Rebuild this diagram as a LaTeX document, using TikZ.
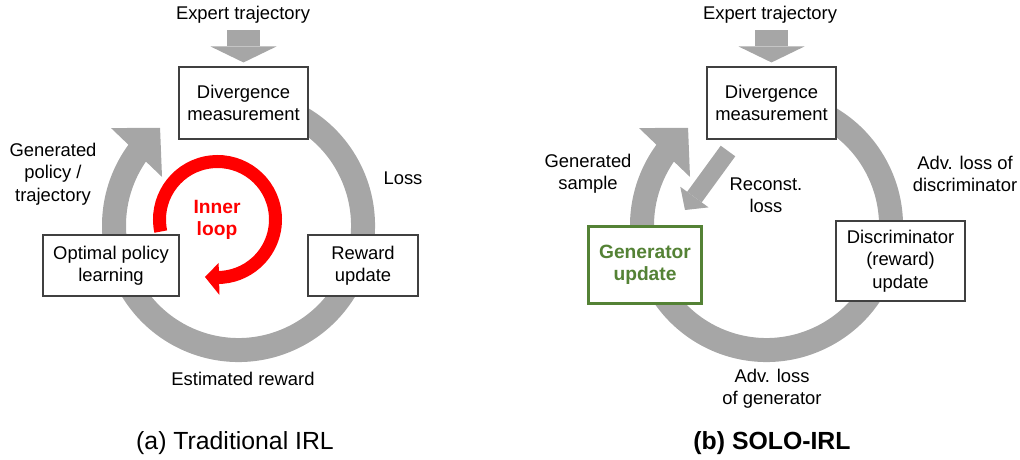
\documentclass[tikz,border=0pt]{standalone}
\usepackage{fontspec}
\setmainfont{Liberation Sans}
\usepackage{xcolor}
\usepackage{tikz}
\usetikzlibrary{arrows.meta,positioning,calc}

\definecolor{ringgray}{HTML}{A6A6A6}
\definecolor{boxline}{HTML}{404040}
\definecolor{gengreen}{HTML}{548235}

\begin{document}
\begin{tikzpicture}[
    x=1pt, y=1pt,
    every node/.style={font=\fontsize{18.4}{22.4}\selectfont, inner sep=0pt},
    stagebox/.style={draw=boxline, line width=1.1pt, fill=white, align=center},
    genbox/.style={draw=gengreen, line width=3pt, fill=white, align=center, text=gengreen, font=\fontsize{19.2}{22.5}\selectfont\bfseries},
    lbl/.style={align=center},
    captiontext/.style={font=\fontsize{24.8}{28}\selectfont},
    ring/.style={draw=ringgray, line width=24pt},
    innerloop/.style={draw=red, line width=13pt},
    blockarrow/.style={draw=ringgray, line width=33pt, -{Triangle[width=66pt 0 0, length=16pt 0 0, line width=0pt 0 0]}},
    recarrow/.style={draw=ringgray, line width=18pt, -{Triangle[width=35pt 0 0, length=16pt 0 0, line width=0pt 0 0]}}
  ]
    \useasboundingbox (0,0) rectangle (1020,-459);

    \coordinate (c1) at (238.5,-225.5);
    \coordinate (c2) at (217.5,-219.5);
    \coordinate (c3) at (766.5,-225.5);

    \draw[ring] ($(c1)+(70:124.5)$) arc[start angle=70, end angle=-217, radius=124.5];
    \fill[ringgray] ($(c1)+(142.6:160.5)$) -- ($(c1)+(128.8:125.2)$) -- ($(c1)+(147.6:90.6)$) -- cycle;
    \draw[innerloop] ($(c2)+(192:58)$) arc[start angle=192, end angle=-90, radius=58];
    \fill[red] ($(c2)+(-88.5:75.5)$) -- ($(c2)+(-102.3:58.8)$) -- ($(c2)+(-88.5:43.5)$) -- cycle;

    \draw[ring] ($(c3)+(70:124.5)$) arc[start angle=70, end angle=-217, radius=124.5];
    \fill[ringgray] ($(c3)+(142.6:160.5)$) -- ($(c3)+(128.8:125.2)$) -- ($(c3)+(147.6:90.6)$) -- cycle;

    \node[stagebox, minimum width=129pt, minimum height=72pt] (div1) at (243.5,-103) {Divergence\\measurement};
    \node[stagebox, minimum width=136pt, minimum height=61pt] (opt1) at (111,-265.5) {Optimal policy\\learning};
    \node[stagebox, minimum width=110pt, minimum height=61pt] (rew1) at (363,-265.5) {Reward\\update};

    \node[stagebox, minimum width=129pt, minimum height=72pt] (div2) at (771.5,-103) {Divergence\\measurement};
    \node[genbox, minimum width=113pt, minimum height=77pt] (gup2) at (645,-265) {Generator\\update};
    \node[stagebox, minimum width=129pt, minimum height=80pt] (dis2) at (900.5,-261) {Discriminator\\(reward)\\update};

    \node[lbl] (exp1) at (243,-15) {Expert trajectory};
    \node[lbl] (exp2) at (770,-15) {Expert trajectory};
    \coordinate (es1) at (243.5,-30);
    \coordinate (es2) at (771.5,-30);
    \draw[blockarrow] (es1) -- ([yshift=4pt]div1.north);
    \draw[blockarrow] (es2) -- ([yshift=4pt]div2.north);

    \coordinate (rs) at (728,-151);
    \coordinate (rt) at (685,-210);
    \draw[recarrow] (rs) -- (rt);

    \node[lbl] (loss1) at (403,-178) {Loss};
    \node[lbl] (gen1) at (53,-174) {Generated\\policy /\\trajectory};
    \node[lbl] (est1) at (243,-379) {Estimated reward};
    \node[lbl, text=red, font=\fontsize{19.2}{22.5}\selectfont\bfseries] (inl1) at (217,-220) {Inner\\loop};
    \node[captiontext] (cap1) at (235,-443) {(a) Traditional IRL};

    \node[lbl] (gen2) at (588,-174) {Generated\\sample};
    \node[lbl] (rec2) at (766,-195) {Reconst.\\loss};
    \node[lbl] (adv2) at (965,-174) {Adv. loss of\\discriminator};
    \node[lbl] (adg2) at (772,-389) {Adv. loss\\of generator};
    \node[captiontext, font=\fontsize{24.8}{28}\selectfont\bfseries] (cap2) at (772,-443) {(b) SOLO-IRL};
  \end{tikzpicture}
\end{document}
